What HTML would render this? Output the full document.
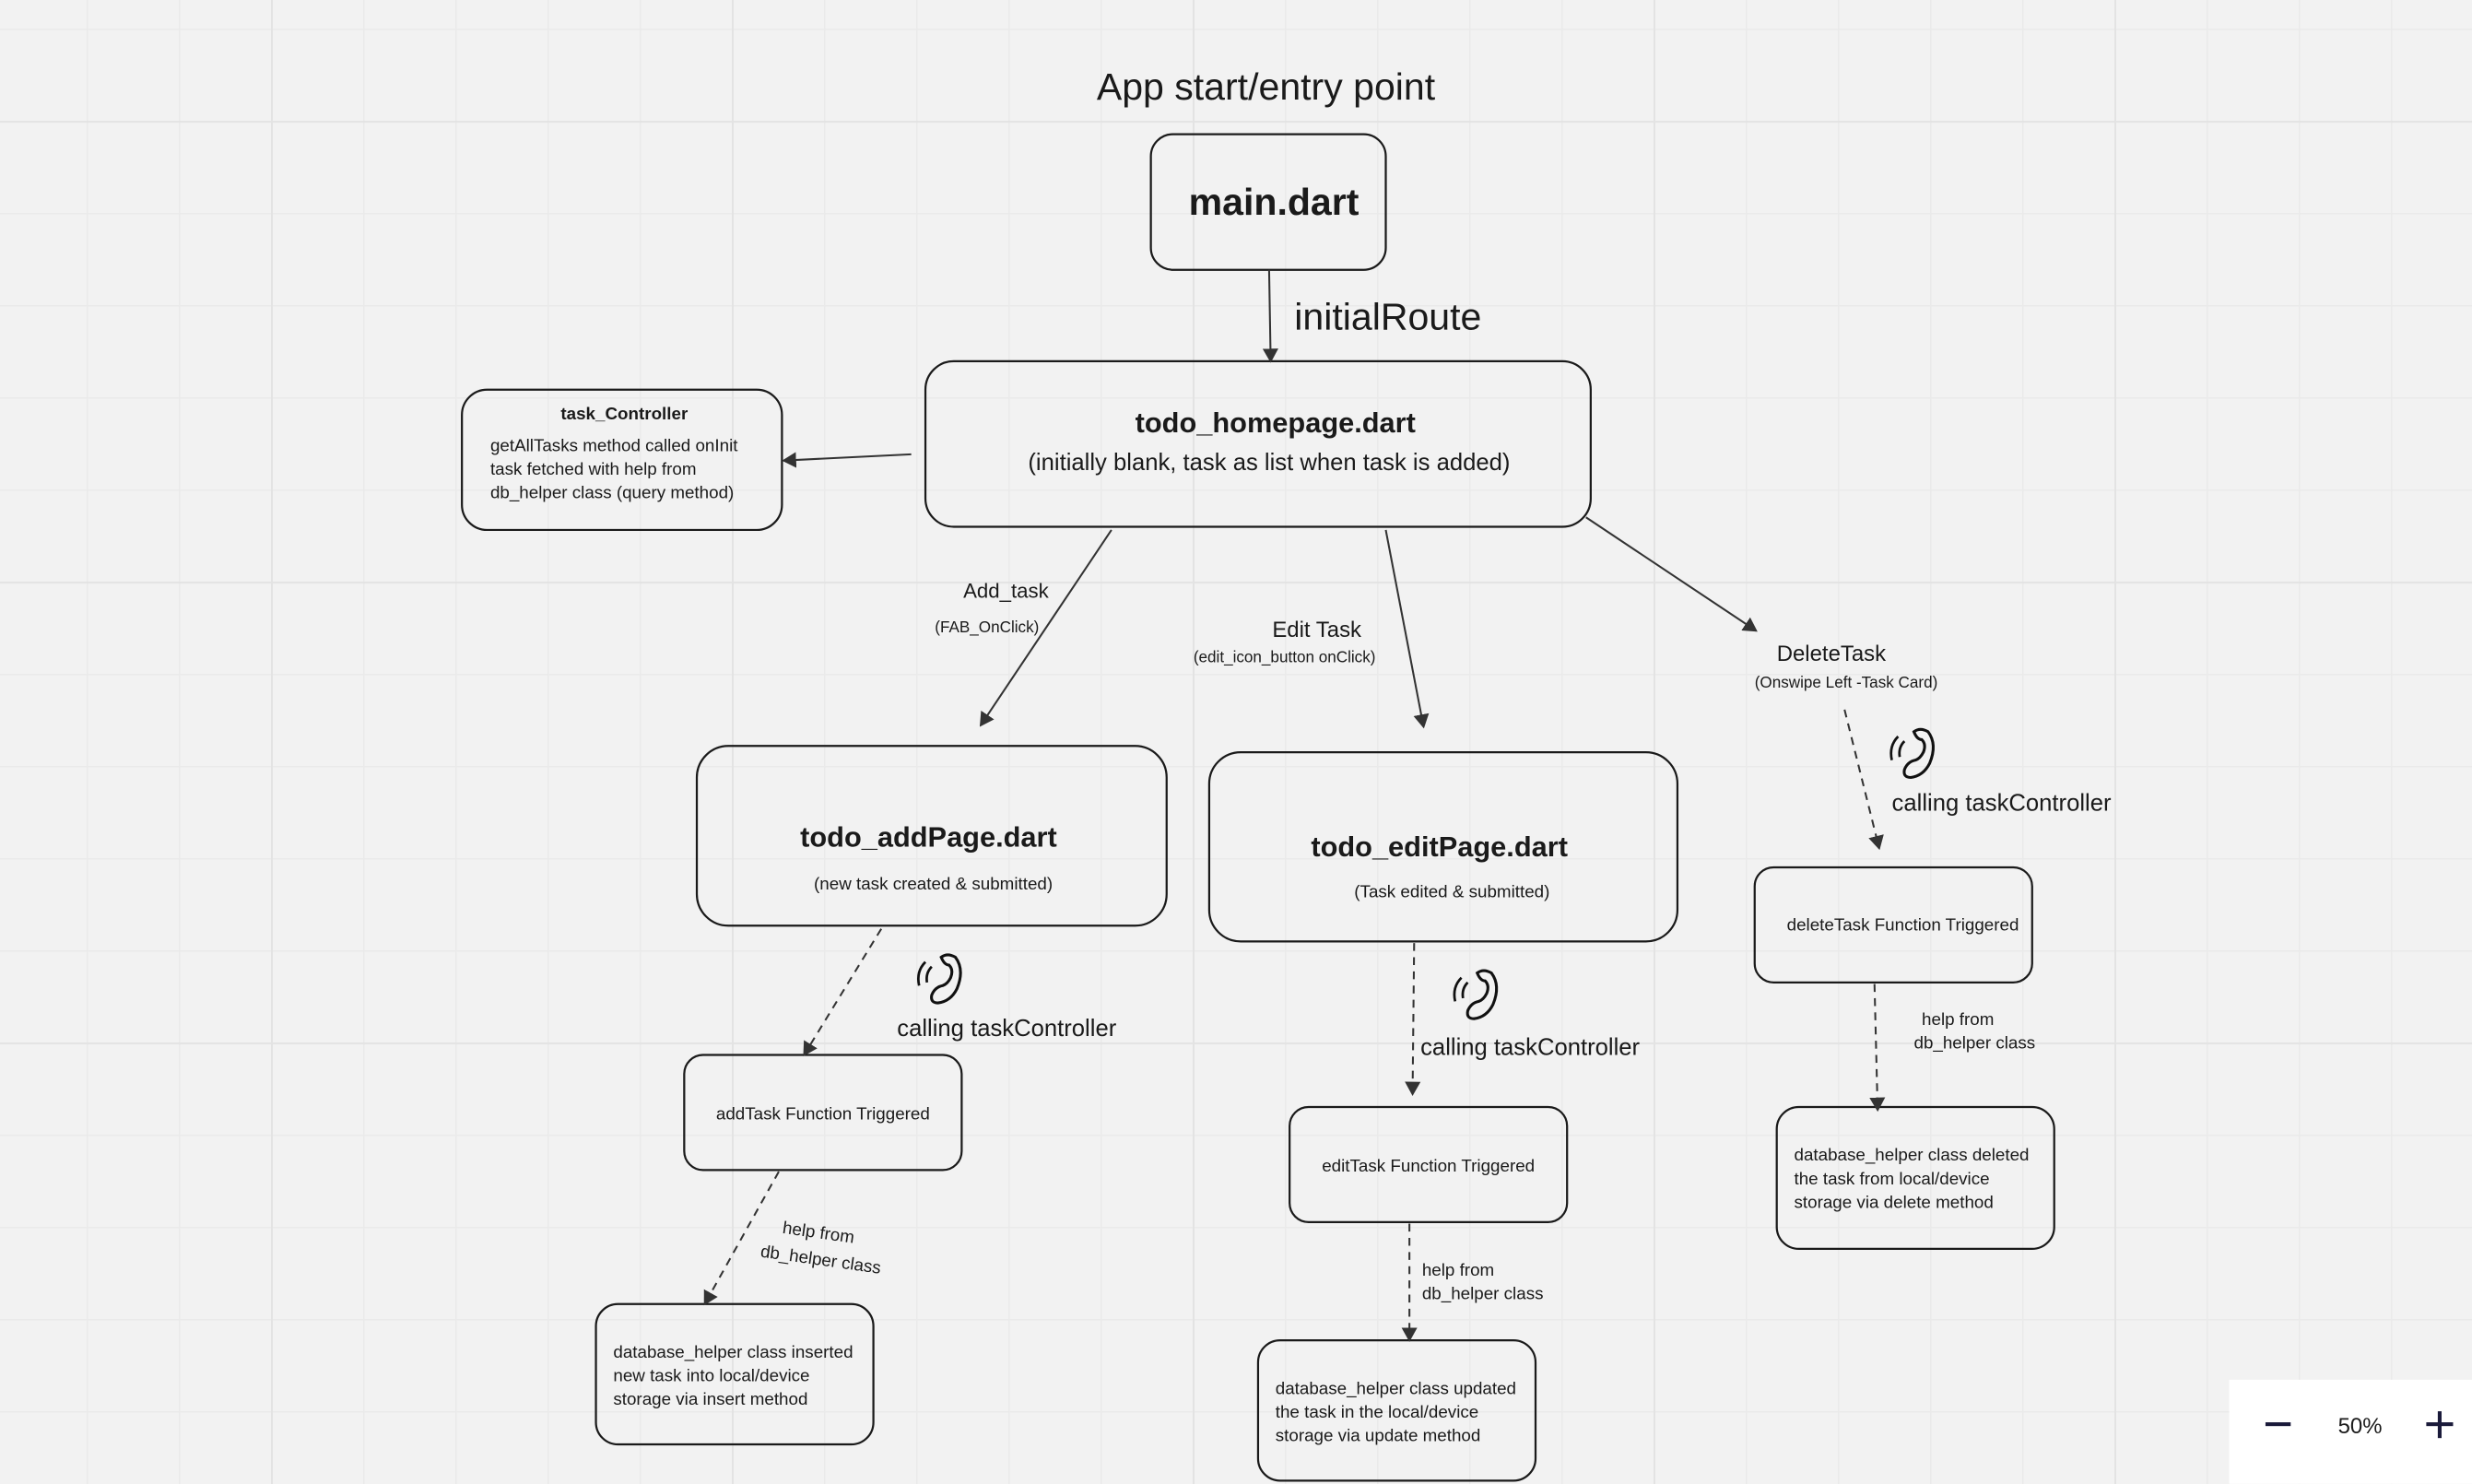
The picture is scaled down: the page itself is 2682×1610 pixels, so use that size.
<!DOCTYPE html>
<html><head><meta charset="utf-8"><style>
html,body{margin:0;padding:0;background:#f2f2f2;}
svg{position:absolute;left:0;top:0;}
text{font-family:"Liberation Sans",sans-serif;fill:#1a1a1a;}
</style></head><body>
<svg width="2682" height="1610" viewBox="0 0 2682 1610">
<defs>
<pattern id="gv" x="94" y="0" width="100" height="1610" patternUnits="userSpaceOnUse"><rect x="0" y="0" width="1.5" height="1610" fill="#eaeaea"/></pattern>
<pattern id="gh" x="0" y="31" width="2682" height="100" patternUnits="userSpaceOnUse"><rect x="0" y="0" width="2682" height="1.5" fill="#eaeaea"/></pattern>
<pattern id="gm" x="294" y="0" width="500" height="1610" patternUnits="userSpaceOnUse"><rect x="0" y="0" width="2" height="1610" fill="#e3e3e3"/></pattern>
<pattern id="gmh" x="0" y="131" width="2682" height="500" patternUnits="userSpaceOnUse"><rect x="0" y="0" width="2682" height="2" fill="#e3e3e3"/></pattern>
</defs>
<rect width="2682" height="1610" fill="#f2f2f2"/>
<rect width="2682" height="1610" fill="url(#gv)"/>
<rect width="2682" height="1610" fill="url(#gh)"/>
<rect width="2682" height="1610" fill="url(#gm)"/>
<rect width="2682" height="1610" fill="url(#gmh)"/>
</svg>
<svg width="2682" height="1610" viewBox="0 0 1568 941">
<defs>
<marker id="a" markerWidth="10" markerHeight="10" refX="8" refY="5" orient="auto" markerUnits="userSpaceOnUse"><path d="M0,0 L9,5 L0,10 Z" fill="#333"/></marker>
<g id="phone"><path d="M-6,-14 q4,-3 9,0 q6,8 1,20 q-4,8 -12,9 q-5,0 -4,-5 q2,-5 7,-6 q3,-1 5,-5 q2,-5 -1,-8 q-3,0 -5,-5 z" fill="none" stroke="#111" stroke-width="1.8"/><path d="M-12,-8 q-4,4 -3,10 M-16,-11 q-6,6 -4,15" fill="none" stroke="#111" stroke-width="1.6"/></g>
</defs>
<g fill="none" stroke="#1a1a1a" stroke-width="1.3">
<rect x="730" y="85" width="149" height="86" rx="14"/>
<rect x="587" y="229" width="422" height="105" rx="18"/>
<rect x="293" y="247" width="203" height="89" rx="16"/>
<rect x="442" y="473" width="298" height="114" rx="20"/>
<rect x="767" y="477" width="297" height="120" rx="20"/>
<rect x="1113" y="550" width="176" height="73" rx="12"/>
<rect x="434" y="669" width="176" height="73" rx="12"/>
<rect x="818" y="702" width="176" height="73" rx="12"/>
<rect x="1127" y="702" width="176" height="90" rx="14"/>
<rect x="378" y="827" width="176" height="89" rx="14"/>
<rect x="798" y="850" width="176" height="89" rx="14"/>
</g>
<g stroke="#333" stroke-width="1.2" fill="none">
<line x1="805" y1="171" x2="806" y2="229" marker-end="url(#a)"/>
<line x1="578" y1="288" x2="497" y2="292" marker-end="url(#a)"/>
<line x1="705" y1="336" x2="622" y2="460" marker-end="url(#a)"/>
<line x1="879" y1="336" x2="903" y2="461" marker-end="url(#a)"/>
<line x1="1006" y1="328" x2="1114" y2="400" marker-end="url(#a)"/>
<g stroke-dasharray="5,4">
<line x1="1170" y1="450" x2="1192" y2="538" marker-end="url(#a)"/>
<line x1="559" y1="589" x2="510" y2="669" marker-end="url(#a)"/>
<line x1="897" y1="598" x2="896" y2="694" marker-end="url(#a)"/>
<line x1="1189" y1="624" x2="1191" y2="704" marker-end="url(#a)"/>
<line x1="494" y1="743" x2="447" y2="827" marker-end="url(#a)"/>
<line x1="894" y1="776" x2="894" y2="850" marker-end="url(#a)"/>
</g>
</g>
<use href="#phone" x="1220" y="478"/>
<use href="#phone" x="603" y="621"/>
<use href="#phone" x="943" y="631"/>
<text x="803" y="63" font-size="24" text-anchor="middle">App start/entry point</text>
<text x="808" y="136" font-size="24" font-weight="bold" text-anchor="middle">main.dart</text>
<text x="821" y="209" font-size="24">initialRoute</text>
<text x="809" y="274" font-size="18" font-weight="bold" text-anchor="middle">todo_homepage.dart</text>
<text x="805" y="298" font-size="15" text-anchor="middle">(initially blank, task as list when task is added)</text>
<text x="396" y="266" font-size="11" font-weight="bold" text-anchor="middle">task_Controller</text>
<text x="311" y="286" font-size="11">getAllTasks method called onInit</text>
<text x="311" y="301" font-size="11">task fetched with help from</text>
<text x="311" y="316" font-size="11">db_helper class (query method)</text>
<text x="611" y="379" font-size="13">Add_task</text>
<text x="593" y="401" font-size="10">(FAB_OnClick)</text>
<text x="807" y="404" font-size="14">Edit Task</text>
<text x="757" y="420" font-size="10">(edit_icon_button onClick)</text>
<text x="1127" y="419" font-size="14">DeleteTask</text>
<text x="1113" y="436" font-size="10">(Onswipe Left -Task Card)</text>
<text x="1200" y="514" font-size="15">calling taskController</text>
<text x="569" y="657" font-size="15">calling taskController</text>
<text x="901" y="669" font-size="15">calling taskController</text>
<text x="589" y="537" font-size="18" font-weight="bold" text-anchor="middle">todo_addPage.dart</text>
<text x="592" y="564" font-size="11" text-anchor="middle">(new task created &amp; submitted)</text>
<text x="913" y="543" font-size="18" font-weight="bold" text-anchor="middle">todo_editPage.dart</text>
<text x="921" y="569" font-size="11" text-anchor="middle">(Task edited &amp; submitted)</text>
<text x="1207" y="590" font-size="11" text-anchor="middle">deleteTask Function Triggered</text>
<text x="522" y="710" font-size="11" text-anchor="middle">addTask Function Triggered</text>
<text x="906" y="743" font-size="11" text-anchor="middle">editTask Function Triggered</text>
<text x="1219" y="650" font-size="11">help from</text>
<text x="1214" y="665" font-size="11">db_helper class</text>
<text x="496" y="782" font-size="11" transform="rotate(8 496 782)">help from</text>
<text x="482" y="797" font-size="11" transform="rotate(8 482 797)">db_helper class</text>
<text x="902" y="809" font-size="11">help from</text>
<text x="902" y="824" font-size="11">db_helper class</text>
<text x="1138" y="736" font-size="11">database_helper class deleted</text>
<text x="1138" y="751" font-size="11">the task from local/device</text>
<text x="1138" y="766" font-size="11">storage via delete method</text>
<text x="389" y="861" font-size="11">database_helper class inserted</text>
<text x="389" y="876" font-size="11">new task into local/device</text>
<text x="389" y="891" font-size="11">storage via insert method</text>
<text x="809" y="884" font-size="11">database_helper class updated</text>
<text x="809" y="899" font-size="11">the task in the local/device</text>
<text x="809" y="914" font-size="11">storage via update method</text>
<rect x="1414" y="875" width="154" height="66" fill="#fff"/>
<rect x="1437" y="902" width="16" height="2.4" fill="#1a1a3a"/>
<text x="1497" y="909" font-size="14" text-anchor="middle" fill="#1a1a3a">50%</text>
<rect x="1539" y="902" width="17" height="2.4" fill="#1a1a3a"/>
<rect x="1546.3" y="895" width="2.4" height="17" fill="#1a1a3a"/>
</svg>
</body></html>
